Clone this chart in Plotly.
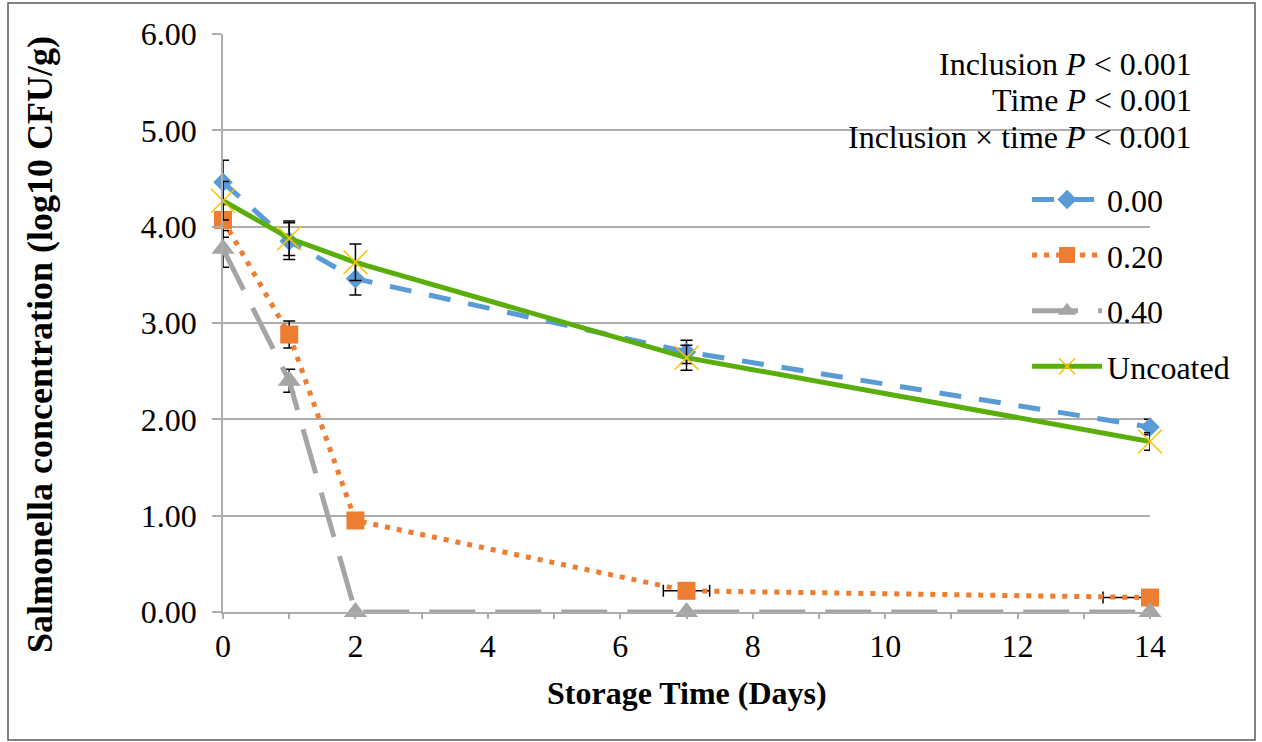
import plotly.graph_objects as go

days = [0, 1, 2, 7, 14]

series_names = ["0.00", "0.20", "0.40", "Uncoated"]
conc_000 = [4.46, 3.85, 3.46, 2.70, 1.92]
conc_020 = [4.07, 2.88, 0.95, 0.22, 0.15]
conc_040 = [3.77, 2.40, 0.00, 0.00, 0.00]
conc_unc = [4.27, 3.88, 3.63, 2.64, 1.77]

err_000 = [0.23, 0.19, 0.17, 0.12, 0.08]
err_020 = [0.18, 0.14, 0.05, 0.03, 0.03]
err_040 = [0.19, 0.12, 0.00, 0.00, 0.00]
err_unc = [0.20, 0.18, 0.19, 0.13, 0.09]

xerr_020_plus = [0, 0, 0, 0.35, 0]
xerr_020_minus = [0, 0, 0, 0.35, 0.71]

y_ticks = [0, 1, 2, 3, 4, 5, 6]
x_ticks = [0, 2, 4, 6, 8, 10, 12, 14]

stats_lines = ["Inclusion <i>P</i> < 0.001", "Time <i>P</i> < 0.001", "Inclusion × time <i>P</i> < 0.001"]

FONT = "Liberation Serif, Times New Roman, serif"
FS = 32
GRID = "#ADADAD"

def ebar(vals):
    return dict(type="data", array=vals, symmetric=True, color="black", thickness=1.5, width=6)

fig = go.Figure()

fig.add_trace(go.Scatter(
    x=days, y=conc_000, name=series_names[0], mode="lines+markers",
    line=dict(color="#5B9BD5", width=5, dash="22px,18px"),
    marker=dict(symbol="diamond", size=15, color="#5B9BD5"),
    error_y=ebar(err_000), cliponaxis=False, legendgroup="a"))

fig.add_trace(go.Scatter(
    x=days, y=conc_020, name=series_names[1], mode="lines+markers",
    line=dict(color="#ED7D31", width=5, dash="5px,7px"),
    marker=dict(symbol="square", size=18, color="#ED7D31"),
    error_y=ebar(err_020),
    error_x=dict(type="data", array=xerr_020_plus, arrayminus=xerr_020_minus, symmetric=False,
                 color="black", thickness=1.5, width=6),
    cliponaxis=False, legendgroup="b"))

fig.add_trace(go.Scatter(
    x=days, y=conc_040, name=series_names[2], mode="lines+markers",
    line=dict(color="#A5A5A5", width=5, dash="46px,20px"),
    marker=dict(symbol="triangle-up", size=20, color="#A5A5A5"),
    error_y=ebar(err_040), cliponaxis=False, legendgroup="c"))

fig.add_trace(go.Scatter(
    x=days, y=conc_unc, name=series_names[3], mode="lines+markers",
    line=dict(color="#5AAE0A", width=5),
    marker=dict(symbol="x-thin-open", size=24, color="#FFC000", line=dict(color="#FFC000", width=1.5)),
    error_y=ebar(err_unc), cliponaxis=False, legendgroup="d"))

fig.update_layout(
    width=1262, height=742,
    margin=dict(l=223, r=112, t=34, b=130),
    paper_bgcolor="white", plot_bgcolor="white",
    font=dict(family=FONT, size=FS, color="black"),
    showlegend=True,
    legend=dict(x=0.8674, y=0.761, xanchor="left", yanchor="top",
                bgcolor="rgba(0,0,0,0)", font=dict(family=FONT, size=FS),
                itemwidth=70, tracegroupgap=11),
    xaxis=dict(range=[0, 14], tickvals=x_ticks, showgrid=False, zeroline=False,
               showline=True, linecolor=GRID, linewidth=1.5,
               ticks="outside", ticklen=5, tickcolor=GRID, tickwidth=1.5,
               minor=dict(dtick=1, tick0=0, ticks="outside", ticklen=5, tickcolor=GRID, tickwidth=1.5, showgrid=False),
               ticklabelstandoff=0,
               tickfont=dict(family=FONT, size=FS)),
    yaxis=dict(range=[0, 6], tickvals=y_ticks, tickformat=".2f", showgrid=True,
               gridcolor=GRID, gridwidth=1.5, zeroline=False,
               showline=True, linecolor=GRID, linewidth=1.5,
               ticks="outside", ticklen=9, tickcolor=GRID, tickwidth=1.5,
               ticklabelstandoff=9,
               tickfont=dict(family=FONT, size=FS)),
)

# axis titles
fig.add_annotation(text="<b>Storage Time (Days)</b>", xref="paper", yref="paper",
                   x=0.5, y=(612 - 693) / 578, xanchor="center", yanchor="middle",
                   showarrow=False, font=dict(family=FONT, size=FS))
fig.add_annotation(text="<b>Salmonella concentration (log10 CFU/g)</b>", xref="paper", yref="paper",
                   x=(40 - 223) / 927, y=(612 - 345) / 578, xanchor="center", yanchor="middle",
                   textangle=-90, showarrow=False, font=dict(family=FONT, size=36))

# statistics text
for line, ypx in zip(stats_lines, [64, 100, 137]):
    fig.add_annotation(text=line, xref="paper", yref="paper",
                       x=(1194 - 223) / 927, y=(612 - ypx) / 578, xanchor="right", yanchor="middle",
                       showarrow=False, font=dict(family=FONT, size=FS))

# chart border
fig.add_shape(type="rect", xref="paper", yref="paper",
              x0=(8 - 223) / 927, x1=(1255 - 223) / 927,
              y0=(612 - 740) / 578, y1=(612 - 3) / 578,
              line=dict(color="#595959", width=1.5), fillcolor="rgba(0,0,0,0)", layer="below")

fig.write_html("out.html", config={"displayModeBar": False},
               post_script="document.body.style.margin='0';")
